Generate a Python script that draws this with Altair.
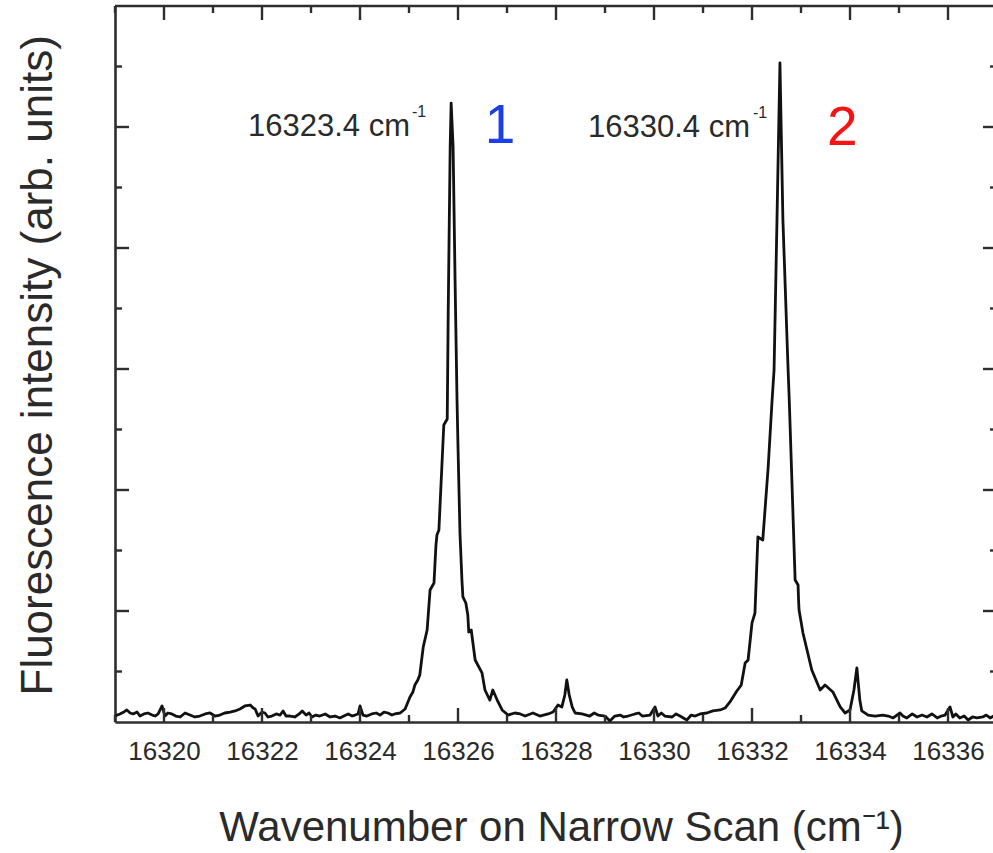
import altair as alt
import pandas as pd

# ---- spectrum ----
wn_baseline_left = [16319.00, 16319.10, 16319.18, 16319.24, 16319.31, 16319.37, 16319.45, 16319.51, 16319.59, 16319.67,
                    16319.76, 16319.82, 16319.88, 16319.96, 16320.02, 16320.08, 16320.16, 16320.24, 16320.33, 16320.43,
                    16320.53, 16320.63, 16320.73, 16320.84, 16320.94, 16321.04, 16321.14, 16321.24, 16321.35, 16321.45,
                    16321.55, 16321.65, 16321.76, 16321.82, 16321.86, 16321.92, 16322.00, 16322.06, 16322.12, 16322.20,
                    16322.29, 16322.37, 16322.43, 16322.49, 16322.57, 16322.67, 16322.76, 16322.82, 16322.90, 16322.96,
                    16323.02, 16323.10, 16323.18, 16323.29, 16323.39, 16323.49, 16323.59, 16323.67, 16323.76, 16323.84,
                    16323.90, 16323.96, 16324.00, 16324.06, 16324.14, 16324.24, 16324.33, 16324.41, 16324.49, 16324.57,
                    16324.65, 16324.71]
int_baseline_left = [13.2, 14.9, 16.5, 18.2, 15.7, 14.9, 16.5, 13.2, 14.9, 15.7,
                     14.0, 13.2, 14.9, 21.5, 13.2, 15.7, 14.9, 13.2, 12.4, 15.7,
                     14.0, 12.4, 13.2, 14.9, 15.7, 13.2, 14.0, 15.7, 16.5, 17.4,
                     19.0, 21.5, 22.3, 19.8, 19.0, 13.2, 16.5, 15.7, 12.4, 13.2,
                     14.9, 14.0, 17.4, 13.2, 13.2, 12.4, 14.9, 17.4, 14.0, 15.7,
                     12.4, 14.0, 13.2, 14.9, 12.4, 13.2, 11.6, 13.2, 14.9, 13.2,
                     14.0, 14.9, 21.5, 14.0, 13.2, 14.9, 15.7, 14.0, 16.5, 15.7,
                     14.0, 14.9]

wn_peak1 = [16324.82, 16324.92, 16325.02, 16325.08, 16325.12, 16325.18, 16325.22, 16325.29, 16325.37, 16325.43,
            16325.51, 16325.55, 16325.57, 16325.61, 16325.67, 16325.71, 16325.78, 16325.80, 16325.84, 16325.86,
            16325.90, 16325.94, 16325.98, 16326.00, 16326.04, 16326.08, 16326.10, 16326.16, 16326.20, 16326.22,
            16326.27, 16326.35, 16326.49, 16326.55, 16326.65, 16326.71, 16326.80, 16326.90, 16327.02, 16327.16,
            16327.27]
int_peak1 = [15.7, 19.0, 28.9, 33.1, 38.8, 43.0, 47.1, 70.2, 84.3, 117.4,
             123.1, 154.5, 162.8, 166.9, 219.0, 253.7, 258.7, 346.3, 483.5, 519.8,
             483.5, 373.6, 274.4, 235.5, 164.5, 125.6, 111.6, 106.6, 96.7, 82.6,
             84.3, 59.5, 48.8, 34.7, 26.4, 34.7, 26.4, 18.2, 14.0, 15.7,
             14.9]

wn_middle = [16327.37, 16327.53, 16327.67, 16327.84, 16327.94, 16328.04, 16328.12, 16328.18, 16328.22, 16328.27,
             16328.33, 16328.39, 16328.53, 16328.69, 16328.78, 16328.86, 16329.00, 16329.10, 16329.20, 16329.31,
             16329.38, 16329.47, 16329.61, 16329.69, 16329.76, 16329.92, 16330.02, 16330.08, 16330.15, 16330.22,
             16330.37, 16330.45, 16330.53, 16330.67, 16330.76, 16330.84, 16330.94, 16331.08, 16331.20, 16331.35,
             16331.45, 16331.55, 16331.69]
int_middle = [13.2, 15.7, 13.2, 14.9, 16.5, 22.3, 20.7, 30.6, 43.0, 30.6,
              20.7, 15.7, 14.9, 13.2, 15.7, 14.0, 13.2, 9.1, 13.2, 14.0,
              12.4, 13.2, 14.9, 15.7, 13.2, 14.0, 20.7, 13.2, 15.7, 13.2,
              12.4, 14.9, 13.2, 9.9, 14.0, 13.2, 14.9, 15.7, 17.4, 18.2,
              19.8, 24.8, 33.9]

wn_peak2 = [16331.78, 16331.86, 16331.92, 16332.00, 16332.06, 16332.12, 16332.22, 16332.33, 16332.41, 16332.45,
            16332.51, 16332.57, 16332.63, 16332.73, 16332.76, 16332.88, 16332.94, 16332.95, 16332.96, 16333.04,
            16333.22, 16333.39, 16333.49, 16333.65, 16333.80, 16333.90, 16334.00, 16334.08, 16334.14, 16334.20,
            16334.24, 16334.37, 16334.51]
int_peak2 = [38.8, 57.0, 59.5, 90.1, 98.3, 161.2, 158.7, 219.0, 274.4, 299.2,
             424.0, 552.9, 424.0, 306.6, 274.4, 125.6, 121.5, 109.1, 100.8, 81.8,
             51.2, 34.7, 38.8, 33.1, 20.7, 15.7, 18.2, 34.7, 52.9, 26.4,
             17.4, 14.0, 13.2]

wn_baseline_right = [16334.67, 16334.78, 16334.88, 16335.02, 16335.08, 16335.16, 16335.27, 16335.37, 16335.47, 16335.57,
                     16335.67, 16335.78, 16335.86, 16335.94, 16336.04, 16336.10, 16336.16, 16336.24, 16336.33, 16336.41,
                     16336.50, 16336.59, 16336.71, 16336.78, 16336.86, 16336.93, 16337.00]
int_baseline_right = [14.0, 13.2, 11.6, 15.7, 13.2, 11.6, 14.9, 12.4, 14.0, 12.4,
                      14.9, 11.6, 13.2, 14.0, 20.7, 12.4, 14.9, 11.6, 13.2, 9.9,
                      12.4, 11.6, 12.4, 14.0, 11.6, 13.2, 13.2]

wavenumber = wn_baseline_left + wn_peak1 + wn_middle + wn_peak2 + wn_baseline_right
intensity = int_baseline_left + int_peak1 + int_middle + int_peak2 + int_baseline_right

# ---- axes ticks ----
x_labels = [16320, 16322, 16324, 16326, 16328, 16330, 16332, 16334, 16336]
x_minor = [16319, 16321, 16323, 16325, 16327, 16329, 16331, 16333, 16335, 16337]
y_major = [100, 200, 300, 400, 500]
y_minor = [50, 150, 250, 350, 450, 550]

# ---- annotations ----
ann_text = ["16323.4 cm", "16330.4 cm"]
ann_x = [16325.02, 16331.96]
ann_y = [492.6, 491.7]
sup_text = ["-1", "-1"]
sup_x = [16325.06, 16332.02]
sup_y = [508.3, 507.4]
num_text = ["1", "2"]
num_x = [16326.86, 16333.84]
num_y = [486.8, 485.1]
num_color = ["#1c3ee8", "#f51414"]

W, H = 878, 716
FONT = "Liberation Sans"
FRAME = "#2e2e2e"
TXT = "#2a2a2a"
MAJ, MIN = 14, 7

xs = alt.Scale(domain=[16319, 16336.918], nice=False, zero=False)
ys = alt.Scale(domain=[8.26, 600], nice=False, zero=False)

x_axis = alt.Axis(
    values=x_labels, format="d", ticks=False, tickSize=0, grid=False,
    labelFont=FONT, labelFontSize=26, labelColor=TXT, labelPadding=16,
    domainColor=FRAME, domainWidth=2.6,
    title="Wavenumber on Narrow Scan (cm⁻¹)", titleFont=FONT, titleFontSize=42,
    titleFontWeight="normal", titleColor=TXT, titleX=446, titleY=118,
    titleBaseline="alphabetic", titleAlign="center")
y_axis = alt.Axis(
    labels=False, ticks=False, tickSize=0, grid=False,
    domainColor=FRAME, domainWidth=2.6,
    title="Fluorescence intensity (arb. units)", titleFont=FONT, titleFontSize=44,
    titleFontWeight="normal", titleColor=TXT, titleX=-64, titleY=689, titleAngle=270,
    titleBaseline="alphabetic", titleAlign="left")


def X(field):
    return alt.X(field, scale=xs, axis=x_axis)


def Y(field):
    return alt.Y(field, scale=ys, axis=y_axis)


spec = pd.DataFrame({"x": wavenumber, "y": intensity, "i": list(range(len(wavenumber)))})

line = alt.Chart(spec).mark_line(color="#111111", strokeWidth=2.8, clip=True,
                                 strokeJoin="round").encode(
    x=X("x:Q"), y=Y("y:Q"), order="i:Q")


def xtick_layer(vals, length, top):
    df = pd.DataFrame({"x": vals})
    y0 = 0 if top else H
    y1 = length if top else H - length
    return alt.Chart(df).mark_rule(color=FRAME, strokeWidth=2.4).encode(
        x=X("x:Q"), y=alt.value(y0), y2=alt.value(y1))


def ytick_layer(vals, length, right):
    df = pd.DataFrame({"y": vals})
    x0 = W + 4 if right else 0
    x1 = W + 4 - length if right else length
    return alt.Chart(df).mark_rule(color=FRAME, strokeWidth=2.4).encode(
        y=Y("y:Q"), x=alt.value(x0), x2=alt.value(x1))


ticks = [
    xtick_layer(x_labels, MAJ, False), xtick_layer(x_minor, MIN, False),
    xtick_layer(x_labels, MAJ, True), xtick_layer(x_minor, MIN, True),
    ytick_layer(y_major, MAJ, False), ytick_layer(y_minor, MIN, False),
    ytick_layer(y_major, MAJ, True), ytick_layer(y_minor, MIN, True),
]

top_frame = alt.Chart(pd.DataFrame({"y": [600]})).mark_rule(color=FRAME, strokeWidth=2.6).encode(
    y=Y("y:Q"), x=alt.value(0), x2=alt.value(W + 4))

ann_df = pd.DataFrame({"x": ann_x, "y": ann_y, "t": ann_text})
ann = alt.Chart(ann_df).mark_text(font=FONT, fontSize=31, color=TXT, align="right",
                                  baseline="alphabetic").encode(
    x=X("x:Q"), y=Y("y:Q"), text="t:N")

sup_df = pd.DataFrame({"x": sup_x, "y": sup_y, "t": sup_text})
sup = alt.Chart(sup_df).mark_text(font=FONT, fontSize=16, color=TXT, align="left",
                                  baseline="alphabetic").encode(
    x=X("x:Q"), y=Y("y:Q"), text="t:N")

num_df = pd.DataFrame({"x": num_x, "y": num_y, "t": num_text, "c": num_color})
nums = alt.Chart(num_df).mark_text(font=FONT, fontSize=55, align="center",
                                   baseline="alphabetic").encode(
    x=X("x:Q"), y=Y("y:Q"), text="t:N",
    color=alt.Color("c:N", scale=None))

chart = alt.layer(line, top_frame, *ticks, ann, sup, nums).properties(
    width=W, height=H,
    autosize=alt.AutoSizeParams(type="none"),
    padding={"left": 115, "top": 6, "right": 0, "bottom": 131},
    background="white",
).configure_view(stroke=None)

chart.save("out.html", embed_options={"renderer": "svg", "actions": False})
